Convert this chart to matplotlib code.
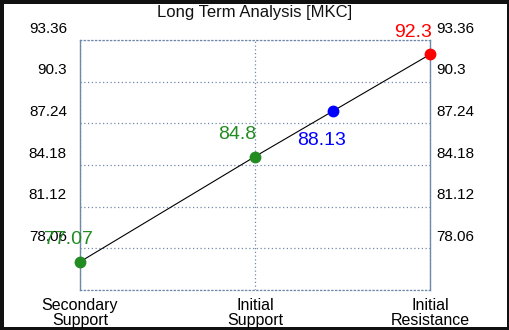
import matplotlib
matplotlib.use("Agg")
import matplotlib.pyplot as plt
from matplotlib import transforms

plt.rcParams['font.family'] = ['Liberation Sans', 'DejaVu Sans']

# chart data
categories = ["Secondary\nSupport", "Initial\nSupport", "Initial\nResistance"]
level_x = [0, 1, 1.444, 2]
level_values = [77.07, 84.8, 88.13, 92.3]
level_colors = ["#228b22", "#228b22", "#0000ff", "#ff0000"]
label_offsets = [(-12, 22), (-18, 22), (-11, -29), (-17, 22)]
ytick_values = [75.0, 78.06, 81.12, 84.18, 87.24, 90.3, 93.36]
ytick_labels = ["", "78.06", "81.12", "84.18", "87.24", "90.3", "93.36"]

fig = plt.figure(figsize=(5.1, 3.3), dpi=100)
fig.patch.set_facecolor("white")
fig.patch.set_edgecolor("#111111")
fig.patch.set_linewidth(5)
ax = fig.add_axes([80 / 510, 1 - 290 / 330, 350 / 510, 250 / 330])

grid_col = "#7088aa"
ax.plot(level_x, level_values, color="black", lw=0.8, zorder=2)
for x, v, c, off in zip(level_x, level_values, level_colors, label_offsets):
    ax.plot(x, v, "o", color=c, ms=7.5, clip_on=False, zorder=3)
    ax.annotate(f"{v:g}", (x, v), xytext=off, textcoords="offset pixels",
                ha="center", va="center", color=c, fontsize=14)

ax.set_xlim(0, 2)
ax.set_ylim(ytick_values[0], ytick_values[-1])
ax.set_xticks(range(len(categories)))
ax.set_xticklabels(categories, fontsize=11.5, linespacing=0.95)
ax.set_yticks(ytick_values)
ax.set_yticklabels(ytick_labels, fontsize=11)
ax.tick_params(axis="x", length=0, pad=6)
ax.tick_params(axis="y", length=0, labelright=True, pad=8)

# tick labels sit above their gridlines
shift_l = transforms.ScaledTranslation(-2 / 100, 13 / 100, fig.dpi_scale_trans)
shift_r = transforms.ScaledTranslation(-5 / 100, 13 / 100, fig.dpi_scale_trans)
for t in ax.yaxis.get_major_ticks():
    t.label1.set_transform(t.label1.get_transform() + shift_l)
    t.label2.set_transform(t.label2.get_transform() + shift_r)

ax.grid(True, color=grid_col, ls=(0, (1, 2)), lw=0.9)
for side in ["left", "right"]:
    ax.spines[side].set_color(grid_col)
    ax.spines[side].set_linewidth(1)
for side in ["top", "bottom"]:
    ax.spines[side].set_color(grid_col)
    ax.spines[side].set_linestyle((0, (1, 2)))
    ax.spines[side].set_linewidth(0.9)

fig.text(0.5, 1 - 12 / 330, "Long Term Analysis [MKC]", ha="center", va="center",
         fontsize=12, color="#111111")

fig.savefig("out.png", dpi=100, facecolor=fig.get_facecolor(), edgecolor=fig.get_edgecolor())
